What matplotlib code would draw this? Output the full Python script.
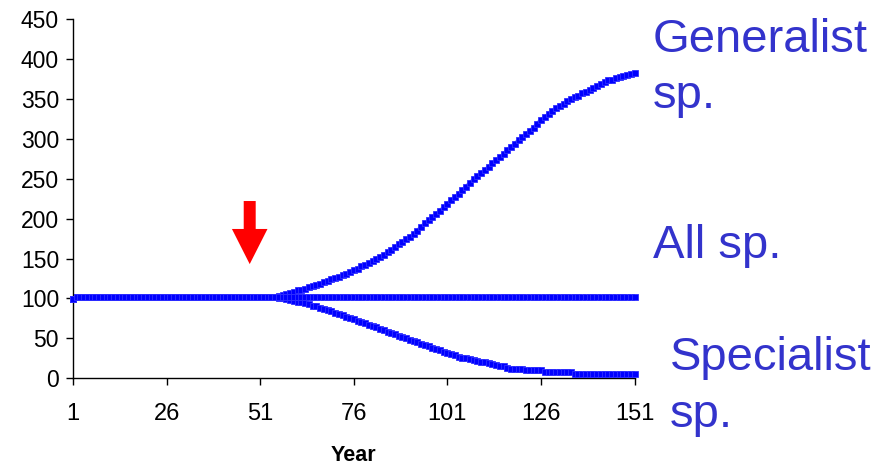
import matplotlib
matplotlib.use("Agg")
import matplotlib.pyplot as plt
from matplotlib.patches import FancyArrow

plt.rcParams['font.family'] = ['Liberation Sans', 'DejaVu Sans']

# Simulated population index per year (1..151)
years = list(range(1, 152))

all_sp = [99] + [102] * 150

generalist = (
    [99] + [102] * 54 +
    [103, 104, 105, 107, 108, 110, 111, 112, 114, 115,
     117, 118, 120, 122, 124, 125, 127, 129, 131, 133,
     135, 137, 140, 142, 144, 147, 150, 152, 155, 158,
     161, 164, 168, 171, 174, 177, 181, 185, 190, 194,
     198, 202, 206, 210, 214, 218, 223, 227, 231, 236,
     240, 245, 249, 253, 257, 261, 265, 269, 273, 277,
     281, 286, 290, 294, 298, 302, 306, 310, 314, 319,
     324, 327, 331, 335, 338, 341, 344, 347, 350, 352,
     354, 357, 359, 361, 363, 366, 368, 371, 373, 374,
     376, 377, 378, 380, 381, 382]
)

specialist = (
    [99] + [102] * 54 +
    [101, 100, 99, 98, 97, 96, 95, 94, 93, 91,
     90, 88, 87, 85, 84, 82, 80, 79, 77, 75,
     74, 72, 70, 69, 67, 65, 64, 62, 60, 58,
     57, 55, 53, 52, 50, 48, 47, 45, 43, 42,
     40, 38, 37, 35, 33, 32, 30, 29, 27, 26,
     25, 24, 23, 22, 21, 20, 19, 18, 17, 15,
     15, 13, 12, 12, 12, 12, 10, 10, 10, 10,
     10, 8, 8, 8, 8, 8, 8, 8, 8, 5,
     5, 5, 5, 5, 5, 5, 5, 5, 5, 5,
     5, 5, 5, 5, 5, 5]
)

x_ticks = [1, 26, 51, 76, 101, 126, 151]
y_ticks = list(range(0, 451, 50))

series_labels = [("Generalist", "sp."), ("All sp.",), ("Specialist", "sp.")]

# Disturbance marker (year, top value, tip value)
event_year = 48.2
event_top = 222
event_tip = 143

line_color = '#0000FF'
text_color = '#3333CC'

fig = plt.figure(figsize=(8.93, 4.65), dpi=100)
ax = fig.add_axes([0.0817, 0.1865, 0.629, 0.7727])

for series in (specialist, generalist, all_sp):
    ax.plot(years, series, color=line_color, lw=2.4, marker='s', ms=4.8,
            mfc=line_color, mec='#3030FF', mew=0.6, clip_on=False, zorder=3)

ax.set_xlim(1, 151)
ax.set_ylim(0, 450)
ax.set_xticks(x_ticks)
ax.set_yticks(y_ticks)
ax.tick_params(axis='x', direction='out', length=5, width=1, pad=13, labelsize=17)
ax.tick_params(axis='y', direction='out', length=5, width=1, pad=5, labelsize=16.5)
for s in ('top', 'right'):
    ax.spines[s].set_visible(False)
for s in ('left', 'bottom'):
    ax.spines[s].set_linewidth(1)
ax.set_xlabel('Year', fontsize=15.5, fontweight='bold', labelpad=14)

arrow = FancyArrow(event_year, event_top, 0, event_tip - event_top,
                   width=3.2, head_width=9.5, head_length=event_top - event_tip - 35,
                   length_includes_head=True, color='#FF0000', lw=0, zorder=4)
ax.add_patch(arrow)

# Series names to the right of the plot
fs = 34
fig.text(653 / 893, 1 - 52 / 465, series_labels[0][0], color=text_color, fontsize=fs, va='baseline')
fig.text(653 / 893, 1 - 108 / 465, series_labels[0][1], color=text_color, fontsize=fs, va='baseline')
fig.text(653 / 893, 1 - 258 / 465, series_labels[1][0], color=text_color, fontsize=fs, va='baseline')
fig.text(670 / 893, 1 - 370 / 465, series_labels[2][0], color=text_color, fontsize=fs, va='baseline')
fig.text(670 / 893, 1 - 427 / 465, series_labels[2][1], color=text_color, fontsize=fs, va='baseline')

fig.savefig('out.png', dpi=100)
